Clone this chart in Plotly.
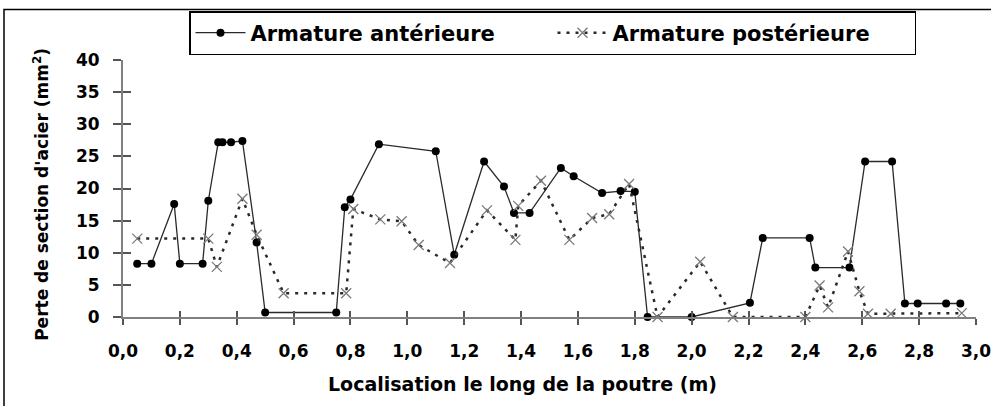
import plotly.graph_objects as go

# Steel section loss along the beam, front and rear reinforcement bars
x_ant = [0.05, 0.10, 0.18, 0.20, 0.28, 0.30, 0.335, 0.35, 0.38, 0.42, 0.47, 0.50,
         0.75, 0.78, 0.80, 0.90, 1.10, 1.165, 1.27, 1.34, 1.375, 1.43, 1.54, 1.585,
         1.685, 1.75, 1.80, 1.845, 2.00, 2.205, 2.25, 2.415, 2.435, 2.555, 2.61,
         2.705, 2.75, 2.795, 2.895, 2.945]
y_ant = [8.3, 8.3, 17.6, 8.3, 8.3, 18.1, 27.2, 27.2, 27.2, 27.4, 11.6, 0.7,
         0.7, 17.1, 18.3, 26.9, 25.8, 9.7, 24.2, 20.3, 16.2, 16.2, 23.2, 21.9,
         19.3, 19.6, 19.5, 0.0, 0.0, 2.2, 12.3, 12.3, 7.7, 7.7, 24.2,
         24.2, 2.1, 2.1, 2.1, 2.1]

x_post = [0.05, 0.30, 0.33, 0.42, 0.47, 0.565, 0.785, 0.81, 0.905, 0.98, 1.04,
          1.15, 1.28, 1.38, 1.39, 1.47, 1.57, 1.65, 1.71, 1.78, 1.88, 2.03,
          2.145, 2.40, 2.45, 2.48, 2.55, 2.59, 2.62, 2.70, 2.95]
y_post = [12.2, 12.2, 7.8, 18.4, 12.8, 3.7, 3.7, 16.8, 15.2, 14.9, 11.2,
          8.4, 16.6, 12.0, 17.3, 21.2, 12.0, 15.4, 16.0, 20.7, 0.0, 8.6,
          0.0, 0.0, 4.9, 1.5, 10.2, 4.0, 0.5, 0.5, 0.6]

x_ticks = [round(i * 0.2, 1) for i in range(16)]
y_ticks = list(range(0, 45, 5))

name_ant = "Armature antérieure"
name_post = "Armature postérieure"
x_title = "Localisation le long de la poutre (m)"
y_title = "Perte de section d'acier (mm<sup>2</sup>)"

FONT = "DejaVu Sans, Liberation Sans, Arial, sans-serif"

fig = go.Figure()

fig.add_trace(go.Scatter(
    x=x_ant, y=y_ant, name=name_ant, mode="lines+markers",
    line=dict(color="#2a2a2a", width=1.3),
    marker=dict(symbol="circle", size=8, color="#000000"),
    cliponaxis=False,
))

fig.add_trace(go.Scatter(
    x=x_post, y=y_post, name=name_post, mode="lines+markers",
    line=dict(color="#2a2a2a", width=2.5, dash="3px,6px"),
    marker=dict(symbol="x-thin-open", size=10, color="#7a7a7a",
                line=dict(color="#7a7a7a", width=1.3)),
    cliponaxis=False,
))

axis_font = dict(family=FONT, size=17, color="#000000", weight="bold")

fig.update_layout(
    width=991, height=406,
    margin=dict(l=123, r=15, t=60, b=89, autoexpand=False),
    paper_bgcolor="white", plot_bgcolor="white",
    separators=", ",
    font=dict(family=FONT, color="#000000"),
    showlegend=True,
    legend=dict(
        orientation="h",
        x=(189 - 123) / 853, xanchor="left",
        y=(317.3 - 11) / 257.3, yanchor="top",
        bordercolor="#000000", borderwidth=1.5,
        bgcolor="white",
        font=dict(family=FONT, size=21, color="#000000", weight="bold"),
        itemwidth=50,
        entrywidth=297, entrywidthmode="pixels",
        tracegroupgap=0,
    ),
    xaxis=dict(
        range=[0, 3.0001], tickvals=x_ticks, tickformat=".1f",
        showline=True, linecolor="#808080", linewidth=2,
        ticks="outside", ticklen=6, tickwidth=1.5, tickcolor="#555555",
        ticklabelstandoff=12, ticklabeloverflow="allow", automargin=False,
        tickfont=axis_font, showgrid=False, zeroline=False,
    ),
    xaxis2=dict(
        range=[0, 3.0001], tickvals=x_ticks, overlaying="x", side="bottom",
        anchor="y", showticklabels=False, automargin=False,
        ticks="inside", ticklen=6, tickwidth=1.5, tickcolor="#555555",
        showline=False, showgrid=False, zeroline=False,
    ),
    yaxis=dict(
        range=[0, 40], tickvals=y_ticks,
        showline=True, linecolor="#808080", linewidth=2,
        ticks="outside", ticklen=8, tickwidth=1.5, tickcolor="#555555",
        ticklabelstandoff=10, automargin=False,
        tickfont=axis_font, showgrid=False, zeroline=False,
    ),
    yaxis2=dict(
        range=[0, 40], tickvals=y_ticks, overlaying="y", side="left",
        anchor="x", showticklabels=False, automargin=False,
        ticks="inside", ticklen=8, tickwidth=1.5, tickcolor="#555555",
        showline=False, showgrid=False, zeroline=False,
    ),
)

# empty trace on the overlay axes so their inner tick halves get drawn
fig.add_trace(go.Scatter(x=[None], y=[None], xaxis="x2", yaxis="y2",
                         showlegend=False, hoverinfo="skip"))

fig.add_annotation(
    text=x_title, xref="paper", yref="paper",
    x=(522 - 123) / 853, y=(317.3 - 384) / 257.3,
    xanchor="center", yanchor="middle", showarrow=False,
    font=dict(family=FONT, size=19, color="#000000", weight="bold"),
)
fig.add_annotation(
    text=y_title, xref="paper", yref="paper", textangle=-90,
    x=(41 - 123) / 853, y=(317.3 - 195) / 257.3,
    xanchor="center", yanchor="middle", showarrow=False,
    font=dict(family=FONT, size=17, color="#000000", weight="bold"),
)

# outer frame around the whole figure
fig.add_shape(
    type="rect", xref="paper", yref="paper",
    x0=(4 - 123) / 853, x1=(998 - 123) / 853,
    y0=(317.3 - 415) / 257.3, y1=(317.3 - 9.5) / 257.3,
    line=dict(color="#000000", width=1.5), fillcolor="rgba(0,0,0,0)",
    layer="below",
)

fig.write_html("out.html")
